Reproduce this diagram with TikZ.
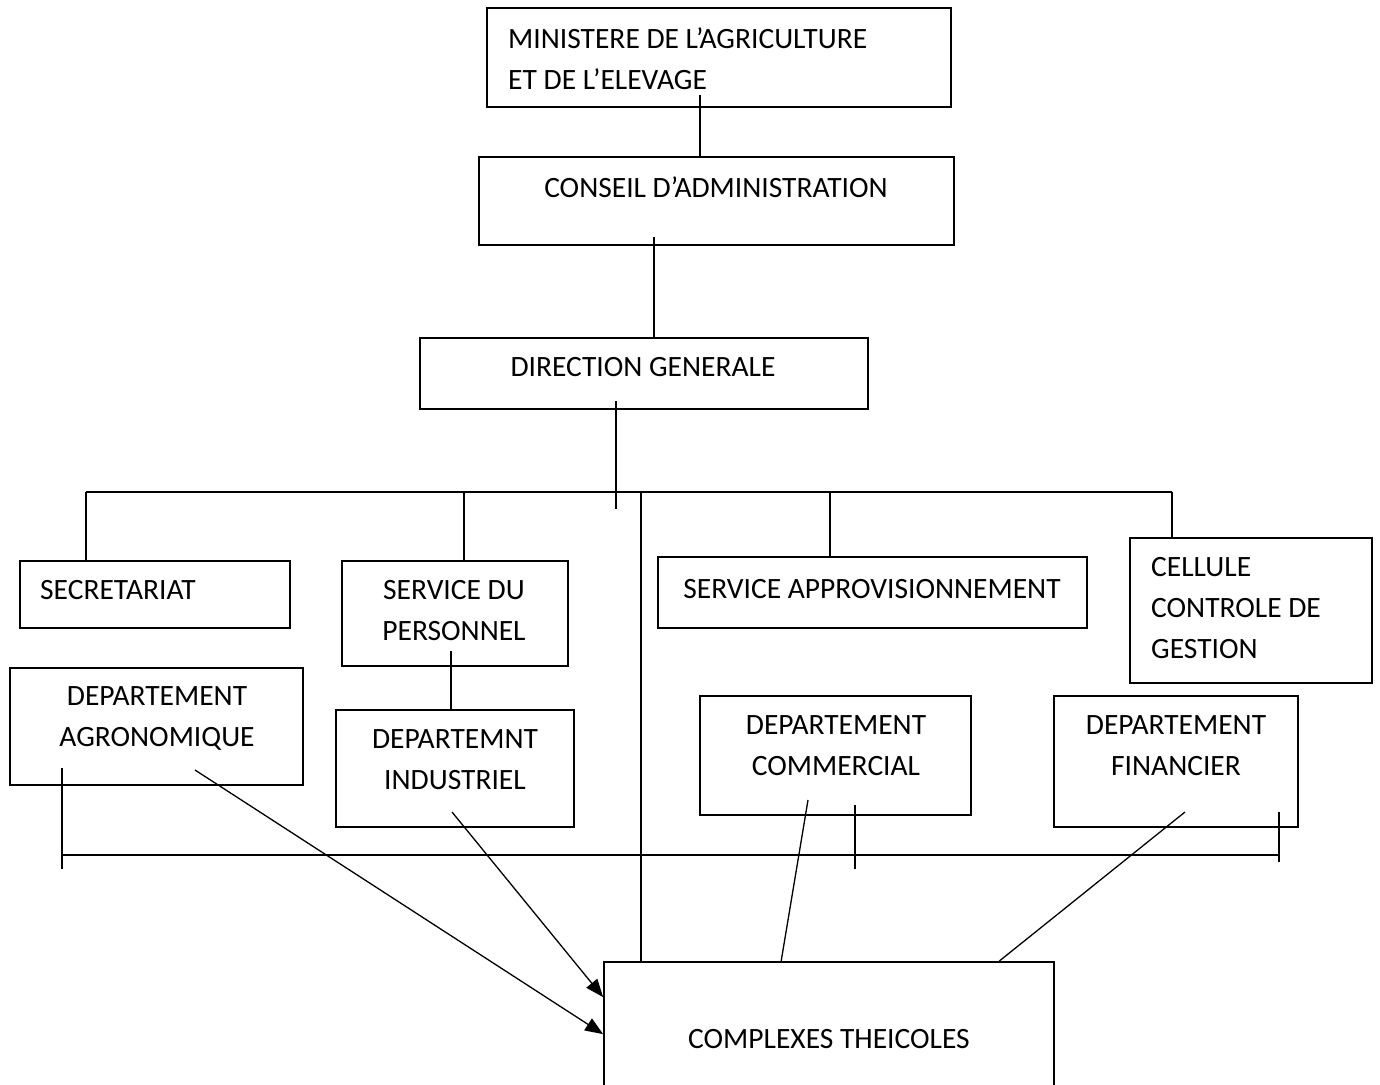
\documentclass[tikz,border=0pt]{standalone}
\usepackage{fontspec}
\setmainfont{Carlito}
\usetikzlibrary{arrows.meta}

\tikzset{
  bloc/.style={draw, line width=1.7pt, inner sep=0pt},
  txt/.style={inner sep=0pt, font=\fontsize{29.5}{41}\selectfont, align=center},
  lien/.style={line width=1.7pt},
  fleche/.style={line width=1.3pt, -{Triangle[length=18pt,width=14pt]}}
}

\begin{document}
\begin{tikzpicture}[x=1pt, y=-1pt]
\useasboundingbox[fill=white] (0,0) rectangle (1380,1084);
% boites
\node[bloc, minimum width=464pt, minimum height=99pt] (min) at (719,57.5) {};
\node[bloc, minimum width=475pt, minimum height=88pt] (cons) at (716.5,201) {};
\node[bloc, minimum width=448pt, minimum height=71pt] (dir) at (644,373.5) {};
\node[bloc, minimum width=270pt, minimum height=67pt] (sec) at (155,594.5) {};
\node[bloc, minimum width=226pt, minimum height=105pt] (pers) at (455,613.5) {};
\node[bloc, minimum width=429pt, minimum height=71pt] (appro) at (872.5,592.5) {};
\node[bloc, minimum width=242pt, minimum height=145pt] (cell) at (1251,610.5) {};
\node[bloc, minimum width=293pt, minimum height=117pt] (agro) at (156.5,726.5) {};
\node[bloc, minimum width=238pt, minimum height=117pt] (ind) at (455,768.5) {};
\node[bloc, minimum width=271pt, minimum height=119pt] (com) at (835.5,755.5) {};
\node[bloc, minimum width=244pt, minimum height=131pt] (fin) at (1176,761.5) {};
\node[bloc, minimum width=450pt, minimum height=140pt] (comp) at (829,1032) {};
% textes
\node[txt, align=left, anchor=west] (min-t) at (508,59) {MINISTERE DE L’AGRICULTURE\\ET DE L’ELEVAGE};
\node[txt] (cons-t) at (716,187) {CONSEIL D’ADMINISTRATION};
\node[txt] (dir-t) at (643,367) {DIRECTION GENERALE};
\node[txt, anchor=west] (sec-t) at (40,590) {SECRETARIAT};
\node[txt] (pers-t) at (454,611) {SERVICE DU\\PERSONNEL};
\node[txt] (appro-t) at (872,589) {SERVICE APPROVISIONNEMENT};
\node[txt, align=left, anchor=west] (cell-t) at (1151,608) {CELLULE\\CONTROLE DE\\GESTION};
\node[txt] (agro-t) at (157,718) {DEPARTEMENT\\AGRONOMIQUE};
\node[txt] (ind-t) at (455,760) {DEPARTEMNT\\INDUSTRIEL};
\node[txt] (com-t) at (836,746) {DEPARTEMENT\\COMMERCIAL};
\node[txt] (fin-t) at (1176,746) {DEPARTEMENT\\FINANCIER};
\node[txt] (comp-t) at (829,1039) {COMPLEXES THEICOLES};
% points libres
\coordinate (m1) at (700,95);
\coordinate (c1) at (654,237);
\coordinate (d1) at (616,401);
\coordinate (d2) at (616,509);
\coordinate (busL) at (86,492);
\coordinate (busR) at (1172,492);
\coordinate (b1) at (464,492);
\coordinate (b2) at (830,492);
\coordinate (b3) at (641,492);
\coordinate (p1) at (451,651);
\coordinate (hL) at (62,855);
\coordinate (hR) at (1279,855);
\coordinate (agro-a) at (195,770);
\coordinate (ind-a) at (452,812);
\coordinate (com-a) at (808,800);
\coordinate (fin-a) at (1185,812);
% liaisons
\draw[lien] (m1) -- (m1 |- cons.north);
\draw[lien] (c1) -- (c1 |- dir.north);
\draw[lien] (d1) -- (d2);
\draw[lien] (busL) -- (busR);
\draw[lien] (busL) -- (busL |- sec.north);
\draw[lien] (b1) -- (b1 |- pers.north);
\draw[lien] (b2) -- (b2 |- appro.north);
\draw[lien] (busR) -- (busR |- cell.north);
\draw[lien] (b3) -- (b3 |- comp.north);
\draw[lien] (p1) -- (p1 |- ind.north);
% barre du bas
\draw[lien] (hL) -- (hR);
\draw[lien] (62,768) -- (62,869);
\draw[lien] (855,805) -- (855,869);
\draw[lien] (1279,812) -- (1279,862);
% vers les complexes
\draw[fleche] (agro-a) -- ([yshift=-73pt]comp.north west);
\draw[fleche] (ind-a) -- ([yshift=-36pt]comp.north west);
\draw[lien, line width=1.3pt] (com-a) -- ([xshift=178pt]comp.north west);
\draw[lien, line width=1.3pt] (fin-a) -- ([xshift=396pt]comp.north west);
\end{tikzpicture}
\end{document}
